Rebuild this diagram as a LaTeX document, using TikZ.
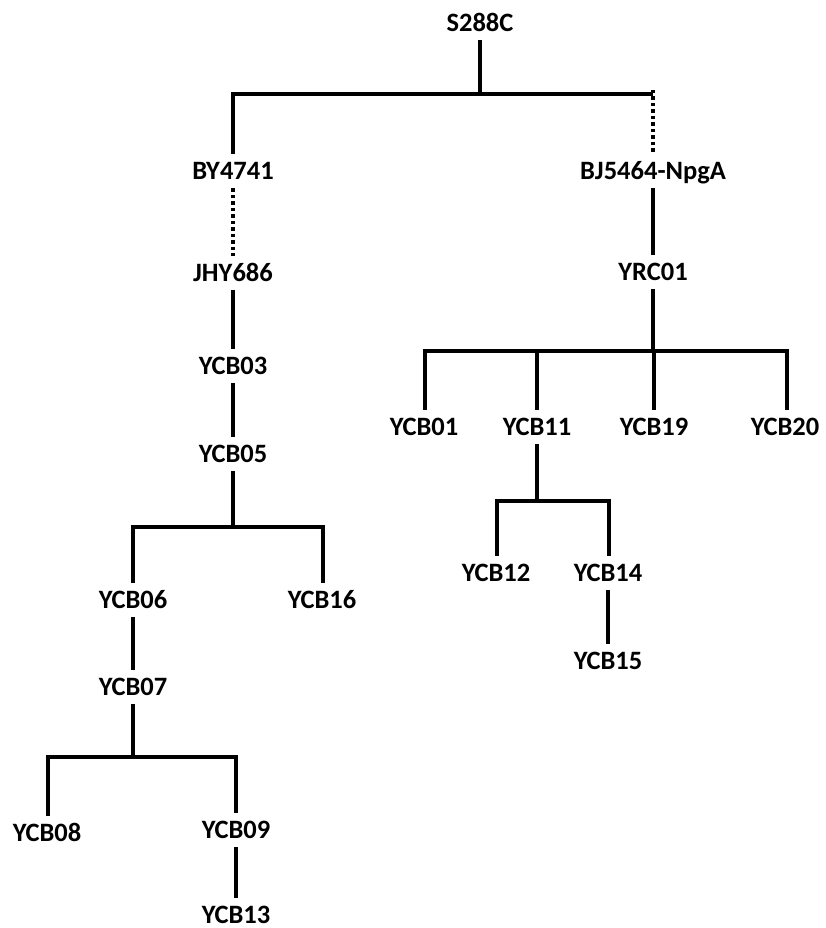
\documentclass[tikz,border=0pt]{standalone}
\usepackage{fontspec}
\setmainfont{Carlito}
\begin{document}
\begin{tikzpicture}[x=1pt,y=-1pt,
  lbl/.style={font=\fontsize{26.5}{30}\selectfont\bfseries, inner sep=0pt, outer sep=9pt,
    text height=16.5pt, text depth=0pt, anchor=center},
  edge/.style={line width=3.3pt, black},
  dotline/.style={line width=3.3pt, black, dash pattern=on 3.3pt off 3.2pt}]
\useasboundingbox (0,0) rectangle (825,928);
% nodes
\node[lbl] (s288c) at (480,23) {S288C};
\node[lbl] (by4741) at (233,171) {BY4741};
\node[lbl] (bj) at (653,171) {BJ5464-NpgA};
\node[lbl] (jhy) at (233,273) {JHY686};
\node[lbl] (yrc01) at (653,272) {YRC01};
\node[lbl] (ycb03) at (233,366) {YCB03};
\node[lbl] (ycb05) at (233,454) {YCB05};
\node[lbl] (ycb06) at (133,600) {YCB06};
\node[lbl] (ycb16) at (322,600) {YCB16};
\node[lbl] (ycb07) at (133,687) {YCB07};
\node[lbl] (ycb08) at (47,833) {YCB08};
\node[lbl] (ycb09) at (236,830) {YCB09};
\node[lbl] (ycb13) at (236,915) {YCB13};
\node[lbl] (ycb01) at (424,427) {YCB01};
\node[lbl] (ycb11) at (537,427) {YCB11};
\node[lbl] (ycb19) at (654,427) {YCB19};
\node[lbl] (ycb20) at (785,427) {YCB20};
\node[lbl] (ycb12) at (496,573) {YCB12};
\node[lbl] (ycb14) at (608,573) {YCB14};
\node[lbl] (ycb15) at (608,661) {YCB15};
% bar coordinates
\coordinate (b0) at (480,94);
\coordinate (b0r) at (653,94);
\coordinate (b1) at (233,527);
\coordinate (b2) at (133,757);
\coordinate (b3) at (653,351);
\coordinate (b4) at (537,501);
% connectors
\draw[edge] (s288c.south) -- (b0);
\draw[edge] (by4741.north) |- (b0r);
\draw[dotline] ([yshift=4pt]b0r) -- (bj.north);
\draw[dotline] (by4741.south) -- (jhy.north);
\draw[edge] (jhy.south) -- (ycb03.north);
\draw[edge] (ycb03.south) -- (ycb05.north);
\draw[edge] (ycb05.south) -- (b1);
\draw[edge] (ycb06.north) |- (b1) -| ([xshift=1pt]ycb16.north);
\draw[edge] (ycb06.south) -- (ycb07.north);
\draw[edge] (ycb07.south) -- (b2);
\draw[edge] ([xshift=1pt]ycb08.north) |- (b2) -| (ycb09.north);
\draw[edge] (ycb09.south) -- (ycb13.north);
\draw[edge] (bj.south) -- (yrc01.north);
\draw[edge] (yrc01.south) -- (b3);
\draw[edge] ([xshift=1pt]ycb01.north) |- (b3) -| ([xshift=2pt]ycb20.north);
\draw[edge] (ycb11.north) -- (ycb11.north |- b3);
\draw[edge] (ycb19.north) -- (ycb19.north |- b3);
\draw[edge] (ycb11.south) -- (b4);
\draw[edge] ([xshift=1pt]ycb12.north) |- (b4) -| ([xshift=1pt]ycb14.north);
\draw[edge] (ycb14.south) -- (ycb15.north);
\end{tikzpicture}
\end{document}
